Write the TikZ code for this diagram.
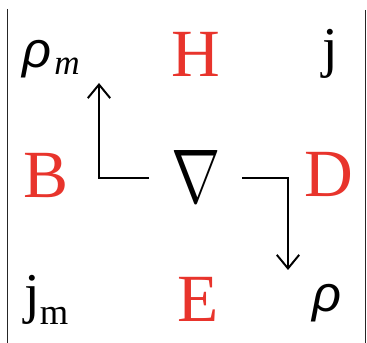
\documentclass[tikz,border=0pt]{standalone}
\usepackage{fontspec}
\setmainfont{Liberation Serif}
\newfontfamily\rhofont{Liberation Sans}
\usetikzlibrary{arrows.meta}
\usetikzlibrary{positioning}
\definecolor{fieldred}{RGB}{232,52,44}

\tikzset{
  field/.style={text=fieldred,inner sep=0pt,anchor=base,font=\fontsize{48}{48}\selectfont},
  source/.style={inner sep=0pt,anchor=base,font=\fontsize{40}{40}\selectfont},
  density/.style={inner sep=0pt,anchor=base,font=\rhofont\itshape\fontsize{36}{36}\selectfont},
  curlarrow/.style={line width=1.4pt,-{Straight Barb[length=3.4mm,width=5.6mm,line width=1.4pt]}},
  frame/.style={line width=1pt,black!85}
}

\begin{document}
\begin{tikzpicture}
\useasboundingbox (0,0) rectangle (9.175,8.575);
% frame of the determinant
\draw[frame] (0.1875,8.35) -- (0.1875,0);
\draw[frame] (9.14,8.325) -- (9.14,0);

% top row
\node[density,anchor=base west] (rhom) at (0.55,6.875) {ρ\kern0.06em\raisebox{-0.12em}{\rmfamily\itshape\fontsize{25}{25}\selectfont m}};
\node[field] (H) at (4.9,6.65) {H};
\node[source] (j) at (8.25,6.9) {j};

% middle row
\node[inner sep=0pt,anchor=base] (nabla) at (4.9,3.5) {\resizebox{1.23cm}{1.3cm}{$\nabla$}};
\node[field] (B) at (1.15,3.625) {B};
\node[field] (D) at (8.225,3.65) {D};

% bottom row
\node[source,anchor=base west] (jm) at (0.6,0.75) {j\raisebox{-0.2em}{\fontsize{26}{26}\selectfont m}};
\node[field] (E) at (4.95,0.525) {E};
\node[density] (rho) at (8.175,0.775) {ρ};

% curl arrows
\coordinate (curlLs) at (3.725,4.125);
\coordinate (curlLt) at (2.475,6.5);
\coordinate (curlRs) at (6.05,4.125);
\coordinate (curlRt) at (7.2,1.825);
\draw[curlarrow] (curlLs) -| (curlLt);
\draw[curlarrow] (curlRs) -| (curlRt);
\end{tikzpicture}
\end{document}
